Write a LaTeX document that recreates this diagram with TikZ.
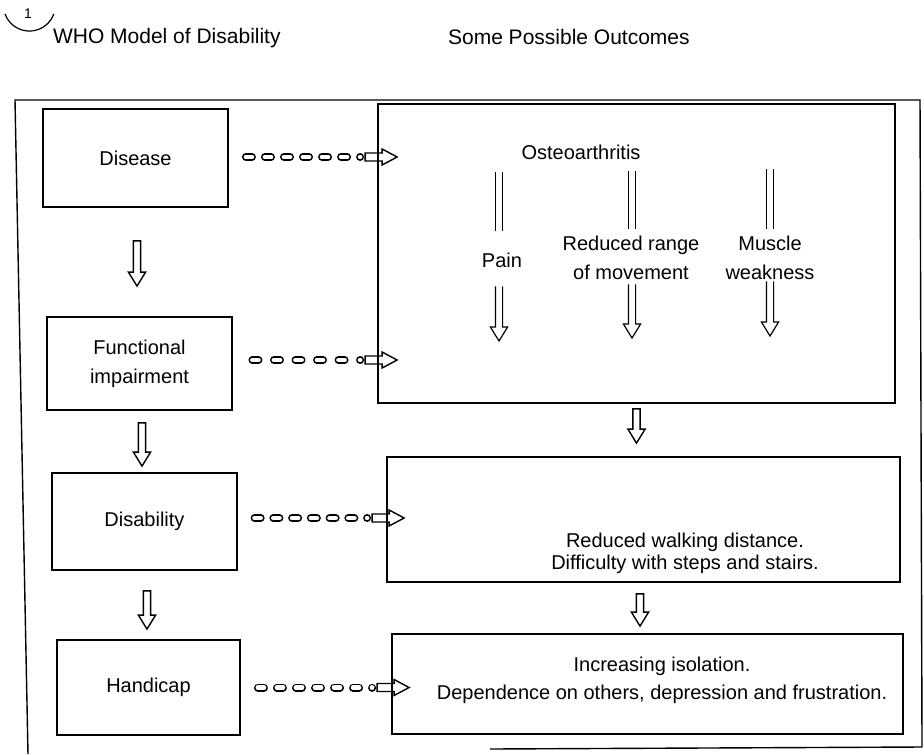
\documentclass[tikz,border=0pt]{standalone}
\usepackage{fontspec}
\setmainfont{Liberation Sans}
\usetikzlibrary{calc,decorations}

\tikzset{
  box/.style={draw, line width=0.9pt},
  twin/.style={double, double distance=3.2pt, line width=0.6pt},
  hollow/.style={line width=0.7pt, to path={let \p1=(\tikztostart), \p2=(\tikztotarget) in
    (\x1-1.8pt,\y1) -- (\x1-1.8pt,\y2+7pt) -- (\x1-4.3pt,\y2+7pt) -- (\x1,\y2)
    -- (\x1+4.3pt,\y2+7pt) -- (\x1+1.8pt,\y2+7pt) -- (\x1+1.8pt,\y1) -- cycle}},
  openhollow/.style={line width=0.6pt, to path={let \p1=(\tikztostart), \p2=(\tikztotarget) in
    (\x1-1.8pt,\y1) -- (\x1-1.8pt,\y2+7pt) -- (\x1-4.3pt,\y2+7pt) -- (\x1,\y2)
    -- (\x1+4.3pt,\y2+7pt) -- (\x1+1.8pt,\y2+7pt) -- (\x1+1.8pt,\y1)}},
  chain/.style={line width=4pt, line cap=round, dash pattern=on 3pt off 6.3pt, dash expand off,
    postaction={draw=white, line width=2.4pt, line cap=round, dash pattern=on 3pt off 6.3pt, dash expand off}},
  headr/.style={line width=0.7pt, to path={let \p1=(\tikztostart), \p2=(\tikztotarget) in
    (\x1,\y1-2pt) -- (\x2-7.5pt,\y1-2pt) -- (\x2-7.5pt,\y1-4pt) -- (\x2,\y1)
    -- (\x2-7.5pt,\y1+4pt) -- (\x2-7.5pt,\y1+2pt) -- (\x1,\y1+2pt) -- cycle}}
}

\begin{document}
\begin{tikzpicture}[x=0.5pt, y=-0.5pt]
\useasboundingbox (0,0) rectangle (924,754);

% headings and frame
\draw[line width=0.6pt] (5,14) arc[start angle=200, end angle=340, radius=13pt];
\node[font=\scriptsize] (num) at (28,14) {1};
\node[anchor=west, font=\fontsize{10.5}{12}\selectfont] (who) at (46,38) {WHO Model of Disability};
\node[anchor=west, font=\fontsize{10.5}{12}\selectfont] (spo) at (441,37) {Some Possible Outcomes};
\draw[line width=0.7pt] (490,749) -- (922,747) -- (920,100) -- (15,100) -- (28,754);

% model column
\node[box, minimum width=92.5pt, minimum height=49pt] (dis) at (135.5,158) {Disease};
\node[box, align=center, minimum width=92.5pt, minimum height=46.5pt] (fi) at (139.5,363.5)
  {Functional\\[2.5pt]impairment};
\node[box, minimum width=92.5pt, minimum height=48.5pt] (dsb) at (144.5,521.5) {Disability};
\node[box, minimum width=91.5pt, minimum height=47.5pt] (hc) at (148.5,687.5) {Handicap};

% outcome column
\node[box, minimum width=258.5pt, minimum height=149.5pt] (o1) at (636.5,253.5) {};
\node[box, minimum width=256.5pt, minimum height=62.5pt] (o2) at (643.5,519.5) {};
\node[box, minimum width=255.5pt, minimum height=50pt] (o3) at (647.5,684) {};
\node[align=center] (walk) at (685,553)
  {Reduced walking distance.\\[-1pt]Difficulty with steps and stairs.};
\node[align=center] (iso) at (662,680)
  {Increasing isolation.\\[2pt]Dependence on others, depression and frustration.};

% inside the first outcome
\node (ost) at (581,152) {Osteoarthritis};
\node (pain) at (502,260) {Pain};
\node[align=center] (range) at (631,257.5) {Reduced range\\[2.5pt]of movement};
\node[align=center] (weak) at (770,257.5) {Muscle\\[2.5pt]weakness};
\coordinate (t1) at (499,341);
\coordinate (t2) at (632,338);
\coordinate (t3) at (770,336);
\draw[twin, shorten <=3pt, shorten >=7.5pt] (ost.south -| t1) -- (pain.north -| t1);
\draw[twin, shorten <=2.5pt, shorten >=0pt] (ost.south -| t2) -- (range.north -| t2);
\draw[twin, shorten <=1.5pt, shorten >=0pt] (ost.south -| t3) -- (weak.north -| t3);
\draw[openhollow] ([yshift=-6pt]pain.south -| t1) to (t1);
\draw[openhollow] ([yshift=1pt]range.south -| t2) to (t2);
\draw[openhollow] ([yshift=2.5pt]weak.south -| t3) to (t3);

% down arrows
\draw[hollow] ([xshift=0.75pt,yshift=-16.5pt]dis.south) to ([yshift=15pt]fi.north);
\draw[hollow] ([xshift=1.25pt,yshift=-6pt]fi.south) to ([yshift=3pt]dsb.north);
\draw[hollow] ([xshift=1.25pt,yshift=-10pt]dsb.south) to ([yshift=5pt]hc.north);
\draw[hollow] ([yshift=-2.5pt]o1.south) to ([yshift=6.5pt]o2.north);
\draw[hollow] ([xshift=-1.75pt,yshift=-5.5pt]o2.south) to ([yshift=3.5pt]o3.north);

% dashed links
\coordinate (s1) at ([yshift=0.5pt]dis.east);
\coordinate (e1) at ($(s1 -| o1.west)+(10pt,0)$);
\coordinate (s2) at ([yshift=1.75pt]fi.east);
\coordinate (e2) at ($(s2 -| o1.west)+(10pt,0)$);
\coordinate (s3) at ([yshift=1.75pt]dsb.east);
\coordinate (e3) at ($(s3 -| o2.west)+(9pt,0)$);
\coordinate (s4) at (hc.east);
\coordinate (e4) at ($(s4 -| o3.west)+(9pt,0)$);
\draw[chain] ($(s1)+(2pt,0)$) -- ($(e1)+(-18.5pt,0)$);
\draw[headr] ($(e1)+(-16pt,0)$) to (e1);
\draw[chain] ($(s2)+(2pt,0)$) -- ($(e2)+(-18.5pt,0)$);
\draw[headr] ($(e2)+(-16pt,0)$) to (e2);
\draw[chain] ($(s3)+(2pt,0)$) -- ($(e3)+(-18.5pt,0)$);
\draw[headr] ($(e3)+(-16pt,0)$) to (e3);
\draw[chain] ($(s4)+(2pt,0)$) -- ($(e4)+(-18.5pt,0)$);
\draw[headr] ($(e4)+(-16pt,0)$) to (e4);
\end{tikzpicture}
\end{document}
